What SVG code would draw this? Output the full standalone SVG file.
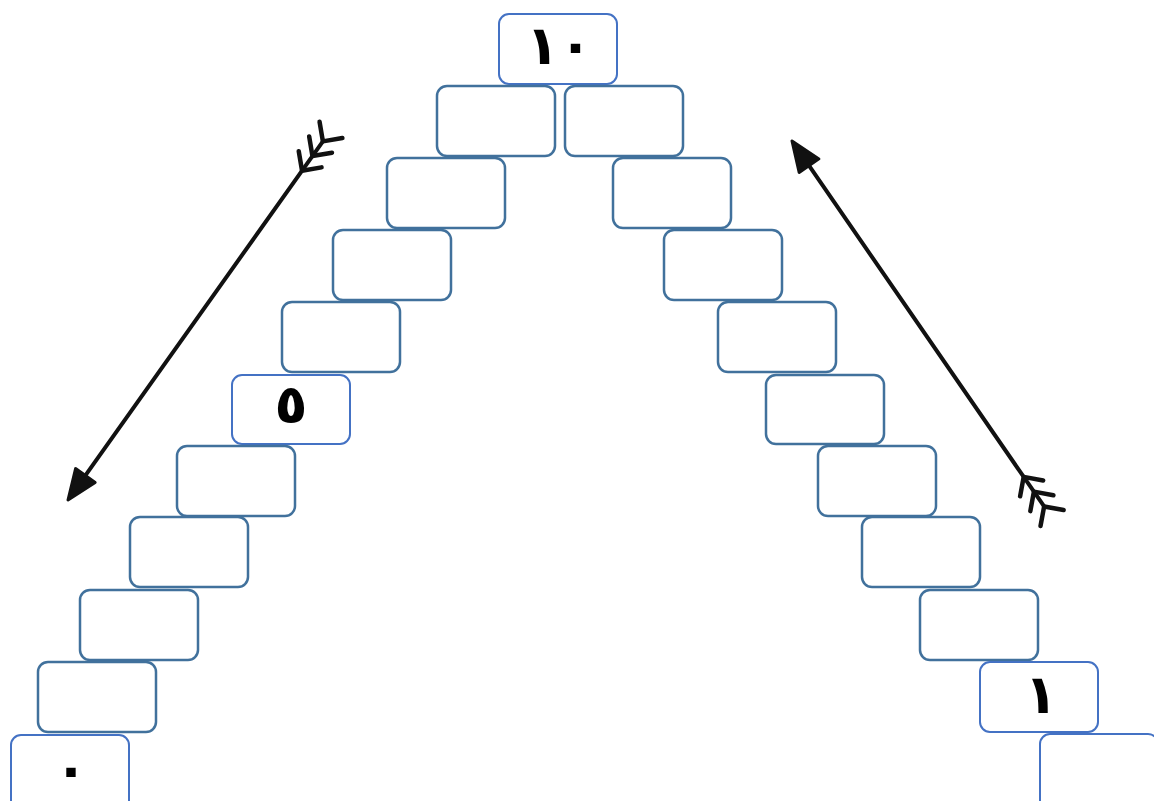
<svg xmlns="http://www.w3.org/2000/svg" width="1154" height="801" viewBox="0 0 1154 801">
<style>
.b{fill:#fff;stroke:#41719C;stroke-width:2.5}
.l{fill:#fff;stroke:#4472C4;stroke-width:2}
.t{font-family:"DejaVu Sans","Noto Sans",sans-serif;font-weight:bold;font-size:54px;fill:#000;text-anchor:middle}
.sh{stroke:#111;stroke-width:4;fill:none;stroke-linecap:round}
.fl{stroke:#111;stroke-width:4.5;fill:none;stroke-linecap:round;stroke-linejoin:round}
.hd{fill:#111;stroke:#111;stroke-width:3;stroke-linejoin:round}
</style>
<rect width="1154" height="801" fill="#fff"/>
<g id="nodes">
<g id="top"><rect class="l" x="499" y="14" width="118" height="70" rx="10"/><text class="t" x="559" y="64">١٠</text></g>
<g id="L1"><rect class="b" x="437" y="86" width="118" height="70" rx="10"/></g>
<g id="R1"><rect class="b" x="565" y="86" width="118" height="70" rx="10"/></g>
<g id="L2"><rect class="b" x="387" y="158" width="118" height="70" rx="10"/></g>
<g id="R2"><rect class="b" x="613" y="158" width="118" height="70" rx="10"/></g>
<g id="L3"><rect class="b" x="333" y="230" width="118" height="70" rx="10"/></g>
<g id="R3"><rect class="b" x="664" y="230" width="118" height="70" rx="10"/></g>
<g id="L4"><rect class="b" x="282" y="302" width="118" height="70" rx="10"/></g>
<g id="R4"><rect class="b" x="718" y="302" width="118" height="70" rx="10"/></g>
<g id="L5"><rect class="l" x="232" y="375" width="118" height="69" rx="10"/><text class="t" x="291" y="423">٥</text></g>
<g id="R5"><rect class="b" x="766" y="375" width="118" height="69" rx="10"/></g>
<g id="L6"><rect class="b" x="177" y="446" width="118" height="70" rx="10"/></g>
<g id="R6"><rect class="b" x="818" y="446" width="118" height="70" rx="10"/></g>
<g id="L7"><rect class="b" x="130" y="517" width="118" height="70" rx="10"/></g>
<g id="R7"><rect class="b" x="862" y="517" width="118" height="70" rx="10"/></g>
<g id="L8"><rect class="b" x="80" y="590" width="118" height="70" rx="10"/></g>
<g id="R8"><rect class="b" x="920" y="590" width="118" height="70" rx="10"/></g>
<g id="L9"><rect class="b" x="38" y="662" width="118" height="70" rx="10"/></g>
<g id="R9"><rect class="l" x="980" y="662" width="118" height="70" rx="10"/><text class="t" x="1041" y="713">١</text></g>
<g id="L10"><rect class="l" x="11" y="735" width="118" height="80" rx="10"/><text class="t" x="71" y="788">٠</text></g>
<g id="R10"><rect class="l" x="1040" y="734" width="118" height="80" rx="10"/></g>
</g>
<g id="connectors">
<g transform="translate(68,500) rotate(-54.6)">
<line class="sh" x1="20" y1="0" x2="440" y2="0"/>
<polygon class="hd" points="0,0 30,-12 30,12"/>
<path class="fl" d="M454,-14 L440,0 L454,14 M436,-14 L422,0 L436,14 M418,-14 L404,0 L418,14"/>
</g>
<g transform="translate(792,141) rotate(55.4)">
<line class="sh" x1="20" y1="0" x2="444" y2="0"/>
<polygon class="hd" points="0,0 30,-12 30,12"/>
<path class="fl" d="M458,-14 L444,0 L458,14 M440,-14 L426,0 L440,14 M422,-14 L408,0 L422,14"/>
</g>
</g>
</svg>
